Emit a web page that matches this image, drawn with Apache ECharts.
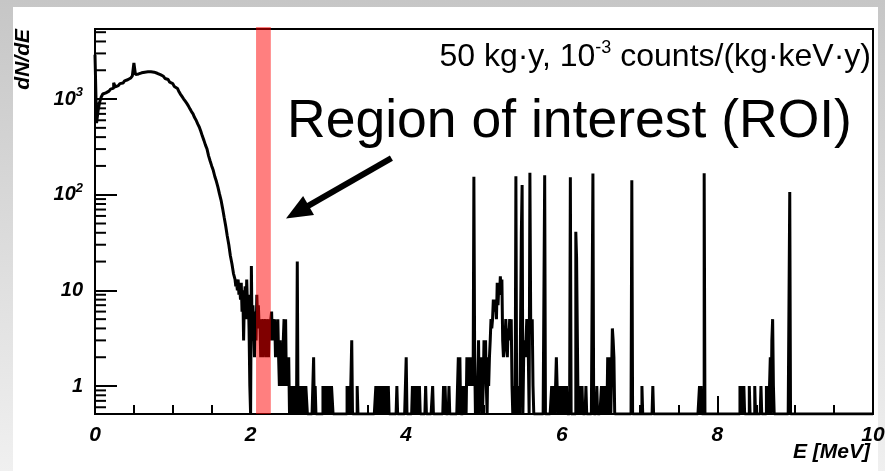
<!DOCTYPE html>
<html>
<head>
<meta charset="utf-8">
<script src="https://cdn.jsdelivr.net/npm/echarts@6/dist/echarts.min.js"></script>
<style>
  html, body { margin: 0; padding: 0; width: 885px; height: 471px; overflow: hidden; }
  body { background: linear-gradient(to bottom, #c6c6c6, #f0f0f0); }
  #paper { position: absolute; left: 13px; top: 7px; width: 865px; height: 464px; background: #fff; }
  #main { position: absolute; left: 0; top: 0; width: 885px; height: 471px; }
</style>
</head>
<body>
<div id="paper"></div>
<div id="main"></div>
<script>
// 能谱：计数 / bin
const YMIN = 0.51;
const YMAX = 5400;

// 0.00 – 1.78 MeV，bin 宽 0.02 MeV
const coarseStep = 0.02;
const coarseCounts = [
  2900, 560, 760, 930, 1050, 1130, 1160, 1190, 1210, 1230,
  1270, 1300, 1480, 1340, 1380, 1420, 1450, 1470, 1510, 1550,
  1590, 1620, 1660, 1700, 1750, 2390, 1800, 1830, 1860, 1880,
  1900, 1910, 1920, 1925, 1930, 1925, 1920, 1910, 1890, 1860,
  1830, 1800, 1770, 1730, 1680, 1640, 1600, 1550, 1500, 1450,
  1400, 1350, 1290, 1240, 1190, 1120, 1060, 1000, 950, 900,
  850, 790, 740, 700, 640, 600, 550, 510, 460, 410,
  370, 330, 300, 255, 225, 200, 180, 155, 138, 120,
  102, 88, 72, 58, 47, 37, 30, 23, 19, 15
];

// 1.80 – 10.00 MeV，bin 宽 0.01 MeV，只列非零 bin [E, counts]
const fineStart = 1.80;
const fineEnd = 10.00;
const fineCounts = [
  [1.80, 13], [1.81, 11], [1.82, 12], [1.83, 10], [1.84, 13], [1.85, 9], [1.86, 11], [1.87, 8],
  [1.88, 12], [1.89, 6], [1.90, 10], [1.91, 3], [1.92, 8], [1.93, 11], [1.94, 5], [1.95, 13],
  [1.96, 7], [1.97, 9], [1.98, 4], [1.99, 1], [2.01, 18], [2.02, 3], [2.03, 7], [2.04, 4],
  [2.05, 2], [2.06, 6], [2.07, 3], [2.08, 9], [2.09, 5], [2.10, 7], [2.11, 4], [2.12, 5],
  [2.13, 2], [2.14, 5], [2.15, 4], [2.16, 2], [2.17, 5], [2.18, 3], [2.19, 5], [2.20, 2],
  [2.21, 5], [2.22, 4], [2.23, 2], [2.24, 5], [2.25, 3], [2.26, 5], [2.27, 6], [2.28, 3],
  [2.29, 5], [2.30, 4], [2.31, 5], [2.32, 2], [2.33, 3], [2.34, 2], [2.35, 5], [2.36, 2],
  [2.37, 1], [2.38, 3], [2.39, 1], [2.40, 2], [2.41, 1], [2.42, 3], [2.43, 5], [2.44, 1],
  [2.45, 5], [2.46, 1], [2.47, 2], [2.48, 1], [2.49, 2],
  [2.51, 1], [2.53, 1], [2.54, 1], [2.56, 1], [2.58, 1], [2.60, 20], [2.62, 1], [2.64, 1],
  [2.65, 1], [2.67, 1], [2.69, 1], [2.71, 1], [2.72, 1],
  [2.81, 2], [2.83, 1],
  [2.93, 1], [2.95, 1], [2.96, 1], [2.98, 1], [3.00, 1], [3.02, 1], [3.04, 1], [3.05, 1],
  [3.24, 1], [3.26, 1], [3.27, 1], [3.30, 3], [3.37, 1],
  [3.61, 1], [3.63, 1], [3.64, 1], [3.66, 1], [3.68, 1], [3.70, 1], [3.72, 1], [3.74, 1], [3.77, 1],
  [3.88, 1], [4.00, 2], [4.08, 1], [4.11, 1], [4.14, 1], [4.17, 1], [4.25, 1], [4.34, 1],
  [4.48, 1], [4.50, 1], [4.55, 1], [4.67, 2], [4.69, 2], [4.73, 1], [4.76, 1],
  [4.78, 2], [4.79, 1], [4.80, 2], [4.81, 2], [4.82, 1], [4.83, 2], [4.84, 1], [4.85, 2],
  [4.86, 1], [4.87, 154], [4.88, 2], [4.90, 1], [4.92, 1], [4.93, 3], [4.95, 2], [4.96, 1],
  [4.97, 2], [4.99, 1], [5.00, 3], [5.01, 2], [5.02, 3], [5.03, 1], [5.05, 2], [5.06, 1],
  [5.07, 2], [5.08, 3], [5.09, 5], [5.10, 4], [5.11, 5], [5.12, 8], [5.13, 6], [5.14, 8],
  [5.15, 7], [5.16, 5], [5.17, 12], [5.18, 7], [5.19, 11], [5.20, 9], [5.21, 14], [5.22, 10],
  [5.23, 13], [5.24, 3], [5.25, 2], [5.26, 2], [5.27, 3], [5.28, 5], [5.29, 3], [5.30, 2],
  [5.31, 4], [5.32, 3], [5.33, 5], [5.34, 4], [5.35, 5], [5.36, 1], [5.38, 1], [5.39, 1],
  [5.41, 156], [5.43, 1], [5.45, 1], [5.48, 40], [5.49, 126], [5.51, 2], [5.52, 3], [5.53, 2],
  [5.54, 3], [5.55, 5], [5.56, 3], [5.57, 2], [5.59, 170], [5.60, 5], [5.61, 4], [5.62, 5],
  [5.63, 1], [5.78, 160],
  [5.87, 1], [5.88, 1], [5.90, 1], [5.92, 1], [5.93, 2], [5.94, 1], [5.96, 1], [5.98, 1],
  [6.00, 1], [6.02, 1], [6.04, 1], [6.06, 1],
  [6.11, 152], [6.18, 41], [6.19, 22], [6.20, 22], [6.22, 1], [6.24, 1], [6.26, 1], [6.31, 1],
  [6.40, 167], [6.45, 1], [6.51, 1], [6.53, 1], [6.55, 1], [6.57, 1], [6.59, 2], [6.60, 1],
  [6.62, 2], [6.65, 4], [6.66, 3], [6.67, 2],
  [6.90, 142], [7.03, 1], [7.17, 1], [7.77, 1], [7.79, 1], [7.83, 168],
  [8.29, 1], [8.30, 1], [8.32, 1], [8.34, 1], [8.41, 1], [8.48, 1], [8.56, 1],
  [8.63, 1], [8.65, 1], [8.67, 1], [8.68, 2], [8.70, 3], [8.71, 5], [8.72, 1],
  [8.93, 107]
];

// 对数轴的次刻度
const yMinorTicks = [0.6, 0.7, 0.8, 0.9, 2, 3, 4, 5, 6, 7, 8, 9,
  20, 30, 40, 50, 60, 70, 80, 90, 200, 300, 400, 500, 600, 700, 800, 900,
  2000, 3000, 4000, 5000];

// ROI 区间和箭头 (数据坐标)
const roiRange = [2.07, 2.26];
const arrowFrom = [3.81, 241];
const arrowTo = [2.455, 56.5];

const FONT = "'Liberation Sans', Arial, Helvetica, sans-serif";

function buildHist() {
  const pts = [];
  coarseCounts.forEach((n, i) => {
    pts.push([Math.round(i * coarseStep * 100) / 100, n > 0 ? n : YMIN]);
  });
  const map = {};
  fineCounts.forEach(([e, n]) => { map[Math.round(e * 100)] = n; });
  const k0 = Math.round(fineStart * 100);
  const k1 = Math.round(fineEnd * 100);
  for (let k = k0; k < k1; k++) {
    const n = map[k] || 0;
    pts.push([k / 100, n > 0 ? n : YMIN]);
  }
  pts.push([fineEnd, YMIN]);
  return pts;
}

const chart = echarts.init(document.getElementById('main'), null, { renderer: 'canvas' });

const axisFontBI = { fontFamily: FONT, fontWeight: 'bold', fontStyle: 'italic', color: '#000' };

const option = {
  animation: false,
  grid: {
    left: 95, right: 12, top: 29, bottom: 57,
    show: true, borderColor: '#000', borderWidth: 2,
    outerBoundsMode: 'none'
  },
  xAxis: {
    type: 'value',
    min: 0, max: 10, interval: 2,
    axisLine: { lineStyle: { color: '#000', width: 2 } },
    axisTick: { inside: true, length: 18, lineStyle: { color: '#000', width: 2 } },
    minorTick: { show: true, splitNumber: 4, length: 9, lineStyle: { color: '#000', width: 2 } },
    splitLine: { show: false },
    axisLabel: Object.assign({ fontSize: 21, margin: 11, formatter: v => String(v) }, axisFontBI)
  },
  yAxis: {
    type: 'log',
    logBase: 10,
    min: YMIN, max: YMAX,
    axisLine: { lineStyle: { color: '#000', width: 2 } },
    axisTick: { inside: true, length: 22, lineStyle: { color: '#000', width: 2 } },
    splitLine: { show: false },
    axisLabel: {
      margin: 12,
      showMinLabel: false,
      showMaxLabel: false,
      formatter: function (v) {
        const p = Math.log10(v);
        const r = Math.round(p);
        if (Math.abs(p - r) > 1e-6) return '';
        if (r === 0) return '{b|1}';
        if (r === 1) return '{b|10}';
        return '{b|10}{s|' + r + '}';
      },
      rich: {
        b: Object.assign({ fontSize: 20, lineHeight: 26 }, axisFontBI),
        s: Object.assign({ fontSize: 13, lineHeight: 14, verticalAlign: 'top' }, axisFontBI)
      }
    }
  },
  series: [
    {
      name: 'spectrum',
      type: 'line',
      step: 'end',
      data: buildHist(),
      showSymbol: false,
      symbol: 'none',
      clip: true,
      lineStyle: { color: '#000', width: 3 },
      z: 2
    },
    {
      name: 'yMinorTicks',
      type: 'custom',
      data: yMinorTicks.map(v => [0, v]),
      renderItem: function (params, api) {
        const p = api.coord([api.value(0), api.value(1)]);
        return {
          type: 'line',
          shape: { x1: p[0], y1: p[1], x2: p[0] + 11, y2: p[1] },
          style: { stroke: '#000', lineWidth: 2 }
        };
      },
      silent: true,
      z: 4
    },
    {
      name: 'ROI',
      type: 'custom',
      data: [roiRange],
      renderItem: function (params, api) {
        const a = api.coord([api.value(0), YMAX]);
        const b = api.coord([api.value(1), YMIN]);
        return {
          type: 'rect',
          shape: { x: a[0], y: a[1] - 2, width: b[0] - a[0], height: b[1] - a[1] + 2 },
          style: { fill: 'rgba(255,0,0,0.5)' }
        };
      },
      silent: true,
      z: 5
    }
  ],
  graphic: [
    {
      id: 'ytitle', type: 'text', x: 23, y: 29, rotation: Math.PI / 2,
      style: { text: 'dN/dE', font: "italic bold 21px " + FONT, fill: '#000', align: 'right', verticalAlign: 'middle' }
    },
    {
      id: 'xtitle', type: 'text', x: 870, y: 452,
      style: { text: 'E [MeV]', font: "italic bold 21px " + FONT, fill: '#000', align: 'right', verticalAlign: 'middle' }
    },
    {
      id: 'exposure', type: 'text', x: 871, y: 57,
      style: {
        text: '{n|50 kg·y, 10}{sup|-3}{n| counts/(kg·keV·y)}',
        align: 'right', verticalAlign: 'middle',
        rich: {
          n: { fontFamily: FONT, fontSize: 32, lineHeight: 36, fill: '#000' },
          sup: { fontFamily: FONT, fontSize: 18, lineHeight: 18, fill: '#000', verticalAlign: 'top' }
        }
      }
    },
    {
      id: 'roiText', type: 'text', x: 287, y: 122,
      style: { text: 'Region of interest (ROI)', font: "53.5px " + FONT, fill: '#000', align: 'left', verticalAlign: 'middle' }
    }
  ]
};

chart.setOption(option);

// 箭头：按数据坐标换算成像素
const tail = chart.convertToPixel({ xAxisIndex: 0, yAxisIndex: 0 }, arrowFrom);
const tip = chart.convertToPixel({ xAxisIndex: 0, yAxisIndex: 0 }, arrowTo);
const dx = tail[0] - tip[0], dy = tail[1] - tip[1];
const len = Math.sqrt(dx * dx + dy * dy);
const ux = dx / len, uy = dy / len;
const headLen = 26, headHalf = 11;
const base = [tip[0] + ux * headLen, tip[1] + uy * headLen];

chart.setOption({
  graphic: [
    {
      id: 'arrowShaft', type: 'line',
      shape: { x1: tail[0], y1: tail[1], x2: base[0] - ux * 2, y2: base[1] - uy * 2 },
      style: { stroke: '#000', lineWidth: 6 }, z: 100
    },
    {
      id: 'arrowHead', type: 'polygon',
      shape: {
        points: [
          [tip[0], tip[1]],
          [base[0] - uy * headHalf, base[1] + ux * headHalf],
          [base[0] + uy * headHalf, base[1] - ux * headHalf]
        ]
      },
      style: { fill: '#000' }, z: 100
    }
  ]
});
</script>
</body>
</html>
